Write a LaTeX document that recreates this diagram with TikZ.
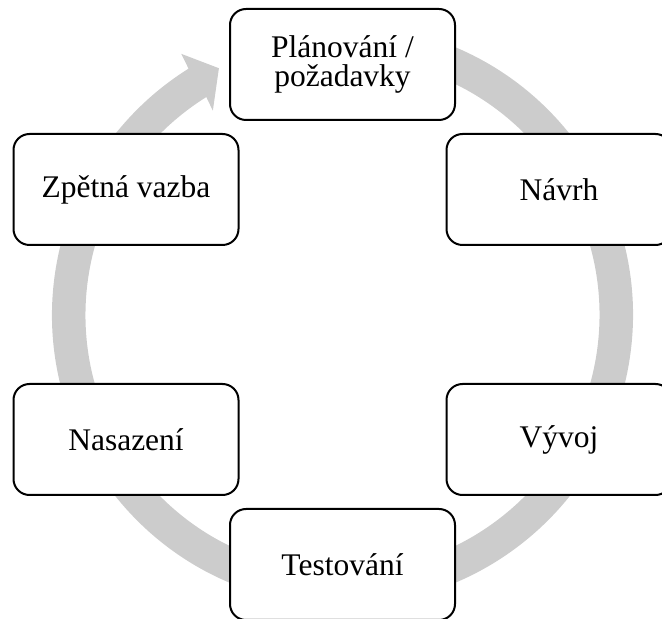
\documentclass[tikz,border=0pt]{standalone}
\usepackage{fontspec}
\setmainfont{Liberation Serif}
\definecolor{ringgray}{RGB}{204,204,204}
\tikzset{
  stagebox/.style={draw=black, line width=2pt, fill=white, rounded corners=16pt,
    minimum width=225pt, minimum height=111pt, inner sep=0pt, align=center,
    font=\fontsize{31.5}{29}\selectfont}
}
\begin{document}
\begin{tikzpicture}[x=1pt,y=1pt]
\useasboundingbox (0,0) rectangle (662,619);
\clip (0,0) rectangle (662,619);
% circular arrow
\begin{scope}[shift={(342.5,304)}]
\fill[ringgray] (80:290.5) arc[start angle=80, end angle=-238, radius=290.5]
  -- (-238.3:307) -- (-243.4:276) -- (-237.6:242) -- (-238:257)
  arc[start angle=-238, end angle=80, radius=257] -- cycle;
\end{scope}
% stages
\node[stagebox] (plan) at (342.5,554.5) {Plánování /\\požadavky};
\node[stagebox] (navrh) at (559,429.5) {Návrh};
\node[stagebox] (vyvoj) at (559,179.5) {Vývoj};
\node[stagebox] (test) at (342.5,54.5) {Testování};
\node[stagebox] (nasaz) at (126,179.5) {Nasazení};
\node[stagebox] (zpet) at (126,429.5) {Zpětná vazba};
\end{tikzpicture}
\end{document}
